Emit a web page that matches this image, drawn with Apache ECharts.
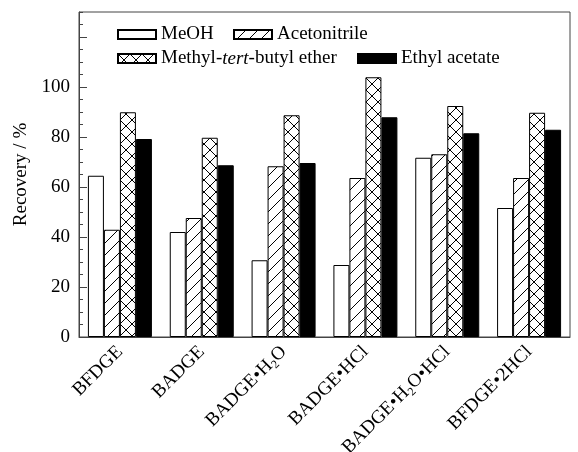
<!DOCTYPE html>
<html>
<head>
<meta charset="utf-8">
<script src="https://cdn.jsdelivr.net/npm/echarts@6/dist/echarts.min.js"></script>
<style>
html,body{margin:0;padding:0;background:#fff;}
#main{width:578px;height:452px;}
</style>
</head>
<body>
<div id="main"></div>
<script>
/* data */
var categories = ['BFDGE', 'BADGE', 'BADGE•H2O', 'BADGE•HCl', 'BADGE•H2O•HCl', 'BFDGE•2HCl'];
var seriesNames = ['MeOH', 'Acetonitrile', 'Methyl-tert-butyl ether', 'Ethyl acetate'];
var meohVals = [64.5, 42.0, 30.7, 28.8, 71.7, 51.6];
var acnVals = [42.9, 47.6, 68.3, 63.6, 73.1, 63.6];
var mtbeVals = [89.9, 79.7, 88.7, 103.9, 92.4, 89.7];
var eaVals = [79.2, 68.7, 69.6, 87.9, 81.5, 82.9];
var yLabelMax = 100;

var FONT = '"Liberation Serif", "DejaVu Serif", serif';
var FS = 19;

// hatch patterns
function makePattern(type){
	var c = document.createElement('canvas');
	c.width = 12; c.height = 12;
	var ctx = c.getContext('2d');
	ctx.fillStyle = '#fff';
	ctx.fillRect(0, 0, 12, 12);
	ctx.strokeStyle = '#000';
	ctx.lineWidth = 1;
	ctx.beginPath();
	// "/"
	ctx.moveTo(-6, 6); ctx.lineTo(6, -6);
	ctx.moveTo(0, 12); ctx.lineTo(12, 0);
	ctx.moveTo(6, 18); ctx.lineTo(18, 6);
	if(type == 'cross'){
		ctx.moveTo(-6, 6); ctx.lineTo(6, 18);
		ctx.moveTo(0, 0); ctx.lineTo(12, 12);
		ctx.moveTo(6, -6); ctx.lineTo(18, 6);
	}
	ctx.stroke();
	return {image: c, repeat: 'repeat'};
}

var fills = ['#fff', makePattern('diag'), makePattern('cross'), '#000'];
var values = [meohVals, acnVals, mtbeVals, eaVals];

var series = [];
for(var i = 0; i < 4; i++){
	series.push({
		name: seriesNames[i],
		type: 'bar',
		data: values[i],
		barWidth: 16,
		barGap: '0%',
		itemStyle: {color: fills[i], borderColor: '#000', borderWidth: 1},
		emphasis: {disabled: true}
	});
}

// four legends, one per entry, to place them like the original
var legendPos = [[117, 25], [233, 25], [117, 49], [357, 49]];
var legends = [];
for(var j = 0; j < 4; j++){
	legends.push({
		data: [seriesNames[j]],
		left: legendPos[j][0],
		top: legendPos[j][1],
		padding: 0,
		icon: 'rect',
		itemWidth: 38,
		itemHeight: 9,
		itemGap: 4,
		selectedMode: false,
		textStyle: {
			fontFamily: FONT, fontSize: FS, color: '#000',
			rich: {
				n: {fontFamily: FONT, fontSize: FS, color: '#000'},
				i: {fontFamily: FONT, fontSize: FS, color: '#000', fontStyle: 'italic'}
			}
		},
		formatter: function(name){
			if(name == 'Methyl-tert-butyl ether'){
				return '{n|Methyl-}{i|tert}{n|-butyl ether}';
			}
			return name;
		}
	});
}

var option = {
	animation: false,
	backgroundColor: '#fff',
	legend: legends,
	grid: {
		left: 79, right: 8, top: 12, bottom: 115,
		outerBoundsMode: 'none', containLabel: false,
		show: true, borderColor: '#444', borderWidth: 1
	},
	xAxis: {
		type: 'category',
		data: categories,
		axisLine: {lineStyle: {color: '#444', width: 1}},
		axisTick: {show: false},
		axisLabel: {
			rotate: 45,
			margin: 12,
			interval: 0,
			fontFamily: FONT, fontSize: FS, color: '#000',
			rich: {
				a: {fontFamily: FONT, fontSize: FS, color: '#000'},
				s: {fontFamily: FONT, fontSize: 12, color: '#000', padding: [11, 0, 0, 0]}
			},
			formatter: function(value){
				var parts = value.split('H2O');
				var out = '';
				for(var k = 0; k < parts.length; k++){
					if(parts[k] !== '') out += '{a|' + parts[k] + '}';
					if(k < parts.length - 1) out += '{a|H}{s|2}{a|O}';
				}
				return out;
			}
		}
	},
	yAxis: [
		{
			type: 'value',
			min: 0, max: 130, interval: 20,
			name: 'Recovery / %',
			nameLocation: 'middle',
			nameGap: 48,
			nameTextStyle: {fontFamily: FONT, fontSize: FS, color: '#000'},
			axisLine: {show: true, lineStyle: {color: '#444', width: 1}},
			axisTick: {show: true, inside: true, length: 8, lineStyle: {color: '#444'}},
			splitLine: {show: false},
			axisLabel: {
				fontFamily: FONT, fontSize: FS, color: '#000', margin: 9,
				showMaxLabel: false,
				formatter: function(v){ return v > yLabelMax ? '' : v; }
			}
		},
		{
			type: 'value',
			min: 0, max: 130, interval: 5,
			position: 'left',
			axisLine: {show: false},
			axisTick: {show: true, inside: true, length: 4, lineStyle: {color: '#444'}},
			splitLine: {show: false},
			axisLabel: {show: false}
		}
	],
	series: series
};

var chart = echarts.init(document.getElementById('main'), null, {renderer: 'canvas'});
chart.setOption(option);
</script>
</body>
</html>
